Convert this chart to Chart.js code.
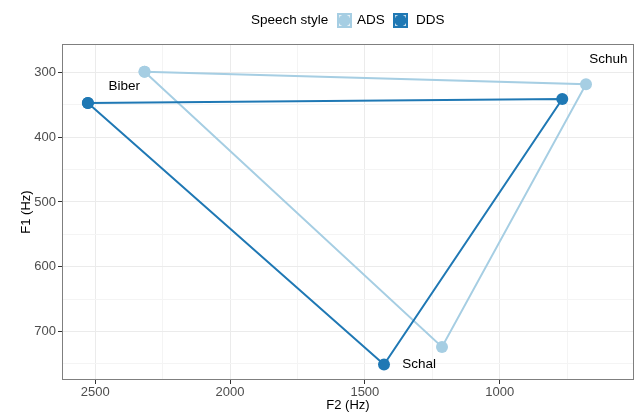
<!DOCTYPE html>
<html>
<head>
  <meta charset="UTF-8">
  <title>Vowel space ADS vs DDS</title>
  <script src="https://cdn.jsdelivr.net/npm/chart.js@4/dist/chart.umd.min.js"></script>
  <style>
    body { margin: 0; background: #fff; }
  </style>
</head>
<body>
  <div style="position: relative; width:638px; height:413px;">
    <canvas id="vowels" width="638" height="413"></canvas>
  </div>
  <script>
    // data
    var vowels = ['Biber', 'Schuh', 'Schal'];
    var adsF2 = [2317, 680, 1214];
    var adsF1 = [299, 318, 724];
    var ddsF2 = [2527, 768, 1429];
    var ddsF1 = [347, 341, 751];
    // where the vowel names sit (data units)
    var labelF2 = [2392, 597, 1299];
    var labelF1 = [322, 279, 751];
    var styles = ['ADS', 'DDS'];
    var xMajor = [2500, 2000, 1500, 1000];
    var xMinor = [2250, 1750, 1250, 750];
    var yMajor = [300, 400, 500, 600, 700];
    var yMinor = [350, 450, 550, 650, 750];

    var colADS = '#a6cee3';
    var colDDS = '#1f78b4';
    var fontName = '"Liberation Sans", Arial, sans-serif';

    function triangle(f2, f1) {
      var pts = [];
      for (var i = 0; i < f2.length; i++) pts.push({x: f2[i], y: f1[i]});
      pts.push({x: f2[0], y: f1[0]});
      return pts;
    }

    function setTicks(major, minor) {
      return function(scale) {
        scale.ticks = major.concat(minor).sort(function(a, b) { return a - b; })
          .map(function(v) { return {value: v}; });
      };
    }

    function isMajor(list) {
      return function(ctx) { return ctx.tick && list.indexOf(ctx.tick.value) >= 0; };
    }

    var xIsMajor = isMajor(xMajor), yIsMajor = isMajor(yMajor);

    var extras = {
      id: 'extras',
      afterDraw: function(chart) {
        var c = chart.ctx, a = chart.chartArea;
        var sx = chart.scales.x, sy = chart.scales.y;
        c.save();
        // panel border
        c.strokeStyle = '#7f7f7f';
        c.lineWidth = 1;
        c.strokeRect(a.left + 0.5, a.top + 0.5, a.right - a.left - 1, a.bottom - a.top - 1);
        // vowel names
        c.fillStyle = '#000';
        c.font = '13.5px ' + fontName;
        c.textAlign = 'center';
        c.textBaseline = 'middle';
        for (var i = 0; i < vowels.length; i++) {
          c.fillText(vowels[i], sx.getPixelForValue(labelF2[i]), sy.getPixelForValue(labelF1[i]));
        }
        // legend
        c.textAlign = 'left';
        c.fillText('Speech style', 251, 20);
        var keys = [[337, colADS, 357], [393, colDDS, 416]];
        for (var k = 0; k < keys.length; k++) {
          var kx = keys[k][0], kc = keys[k][1];
          c.fillStyle = kc;
          c.fillRect(kx, 13, 15, 15);
          c.fillStyle = 'rgba(255,255,255,0.75)';
          c.fillRect(kx + 2, 15, 11, 11);
          c.fillStyle = kc;
          c.beginPath();
          c.arc(kx + 7.5, 20.5, 6, 0, Math.PI * 2);
          c.fill();
          c.fillStyle = '#000';
          c.fillText(styles[k], keys[k][2], 20);
        }
        c.restore();
      }
    };

    new Chart(document.getElementById('vowels'), {
      type: 'scatter',
      data: {
        datasets: [{
          label: styles[0],
          data: triangle(adsF2, adsF1),
          showLine: true,
          borderColor: colADS,
          backgroundColor: colADS,
          borderWidth: 2,
          pointRadius: 6,
          pointBorderWidth: 0,
          order: 2
        }, {
          label: styles[1],
          data: triangle(ddsF2, ddsF1),
          showLine: true,
          borderColor: colDDS,
          backgroundColor: colDDS,
          borderWidth: 2,
          pointRadius: 6,
          pointBorderWidth: 0,
          order: 1
        }]
      },
      options: {
        responsive: false,
        animation: false,
        layout: { autoPadding: false, padding: { top: 44, right: 4, left: 0, bottom: 0 } },
        plugins: {
          legend: { display: false },
          tooltip: { enabled: false }
        },
        scales: {
          x: {
            type: 'linear',
            reverse: true,
            min: 502,
            max: 2623,
            afterBuildTicks: setTicks(xMajor, xMinor),
            afterFit: function(s) { s.height = 33; s.paddingLeft = 0; s.paddingRight = 0; },
            border: { display: false },
            grid: {
              color: function(ctx) { return xIsMajor(ctx) ? '#ebebeb' : '#f4f4f4'; },
              tickColor: function(ctx) { return xIsMajor(ctx) ? '#333333' : 'rgba(0,0,0,0)'; },
              tickLength: 4,
              lineWidth: 1
            },
            ticks: {
              autoSkip: false,
              maxRotation: 0,
              padding: 1,
              color: '#4d4d4d',
              font: { family: fontName, size: 13 },
              callback: function(v) { return xMajor.indexOf(v) >= 0 ? String(v) : ''; }
            },
            title: {
              display: true,
              text: 'F2 (Hz)',
              color: '#000',
              font: { family: fontName, size: 13 },
              padding: { top: 0, bottom: 0 }
            }
          },
          y: {
            type: 'linear',
            reverse: true,
            min: 256,
            max: 775,
            afterBuildTicks: setTicks(yMajor, yMinor),
            afterFit: function(s) { s.width = 62; s.paddingTop = 0; s.paddingBottom = 0; },
            border: { display: false },
            grid: {
              color: function(ctx) { return yIsMajor(ctx) ? '#ebebeb' : '#f4f4f4'; },
              tickColor: function(ctx) { return yIsMajor(ctx) ? '#333333' : 'rgba(0,0,0,0)'; },
              tickLength: 4,
              lineWidth: 1
            },
            ticks: {
              autoSkip: false,
              padding: 2,
              color: '#4d4d4d',
              font: { family: fontName, size: 13 },
              callback: function(v) { return yMajor.indexOf(v) >= 0 ? String(v) : ''; }
            },
            title: {
              display: true,
              text: 'F1 (Hz)',
              color: '#000',
              font: { family: fontName, size: 13 },
              padding: { top: 19, bottom: 0 }
            }
          }
        }
      },
      plugins: [extras]
    });
  </script>
</body>
</html>
